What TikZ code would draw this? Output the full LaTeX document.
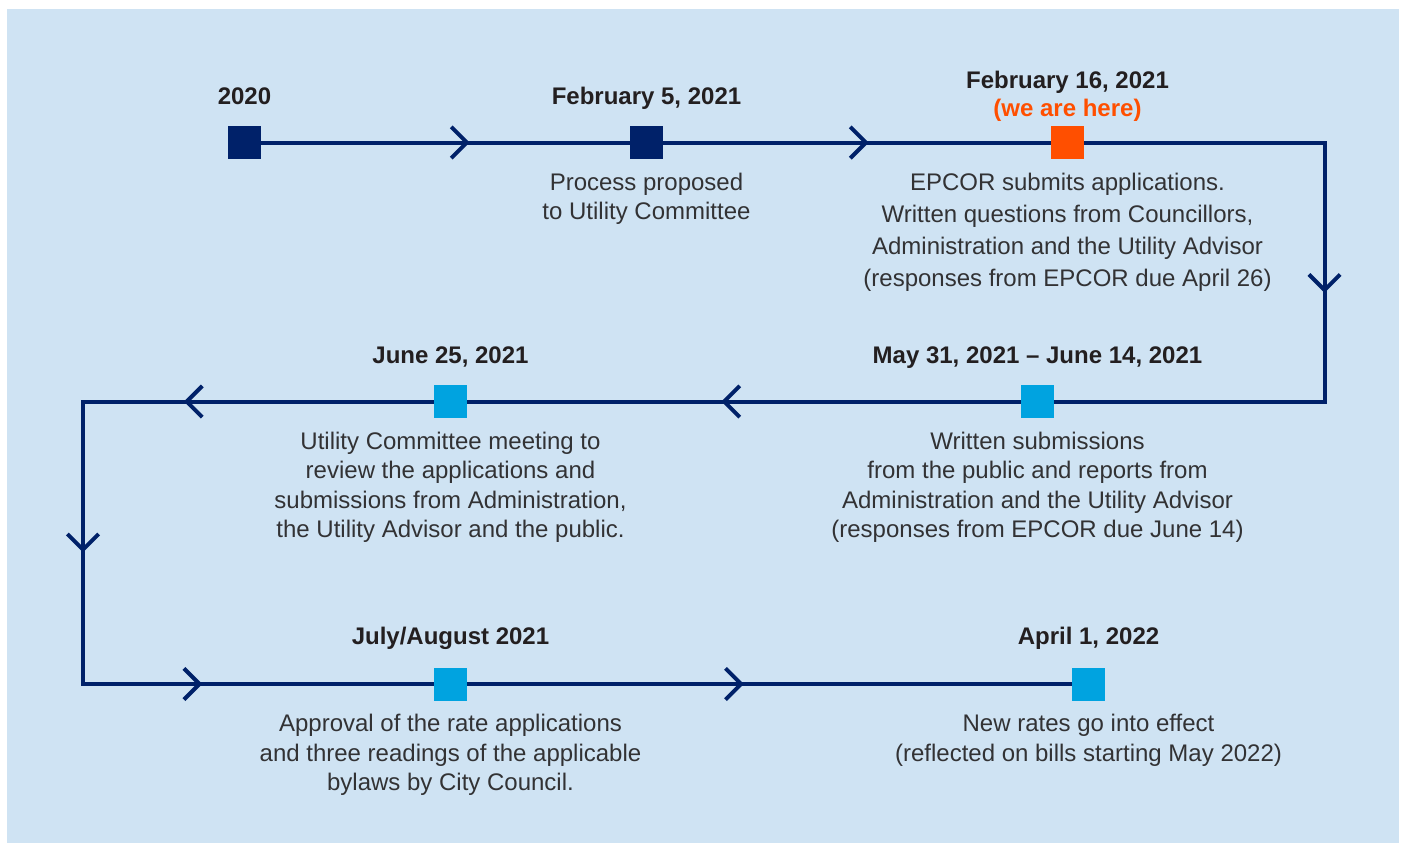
\documentclass[tikz,border=0pt]{standalone}
\usepackage{fontspec}
\setmainfont{Liberation Sans}
\usetikzlibrary{positioning,decorations.markings}
\definecolor{navy}{RGB}{0,33,105}
\definecolor{hereorange}{RGB}{255,79,0}
\definecolor{skyblue}{RGB}{0,163,224}
\definecolor{paleblue}{RGB}{207,227,243}
\definecolor{inkgray}{RGB}{35,31,32}
\definecolor{bodygray}{RGB}{50,50,52}
\tikzset{
milestone/.style={rectangle, minimum size=16.5pt, inner sep=0pt, fill=#1}, % the squares on the line
milestone/.default=skyblue,
datelabel/.style={font=\fontsize{12}{14}\selectfont\bfseries, text=inkgray, inner sep=0pt, text depth=0pt},
info/.style={font=\fontsize{12}{14.7}\selectfont, text=bodygray, align=center, inner sep=0pt},
track/.style={draw=navy, line width=2pt},
chev at/.style={postaction={decorate, decoration={markings, mark=at position #1 with {\draw[navy, line width=2pt, line join=miter] (-7.8pt,-7.8pt) -- (0pt,0pt) -- (-7.8pt,7.8pt);}}}},
}
\begin{document}
\begin{tikzpicture}[x=0.5pt,y=-0.5pt]
    \useasboundingbox (0,0) rectangle (1402,843);
    \fill[paleblue] (7,9) rectangle (1399,843);

    \node[milestone=navy] (m_0) at (244.5,142.5) {};
    \node[milestone=navy] (m_1) at (646.5,142.5) {};
    \node[milestone=hereorange] (m_2) at (1067.5,142.5) {};
    \node[milestone] (m_3) at (1037.5,401.5) {};
    \node[milestone] (m_4) at (450.5,401.5) {};
    \node[milestone] (m_5) at (450.5,684) {};
    \node[milestone] (m_6) at (1088.5,684) {};
    \coordinate (c_0) at (1324.5,142.5);
    \coordinate (c_1) at (1324.5,401.5);
    \coordinate (c_2) at (83,401.5);
    \coordinate (c_3) at (83,684);

    \path[track]
    (m_0) edge[chev at=0.558] (m_1)
    (m_1) edge[chev at=0.523] (m_2);
    \draw[track, chev at=0.504] (m_2) -- (c_0) -- (c_1) -- (m_3);
    \draw[track, chev at=0.536] (m_3) -- (m_4);
    \draw[track, chev at=0.251, chev at=0.507, chev at=0.762] (m_4) -- (c_2) -- (c_3) -- (m_5);
    \draw[track, chev at=0.453] (m_5) -- (m_6);

    % dates
    \node[datelabel, above=10.5pt of m_0] (d_0) {2020};
    \node[datelabel, above=10.5pt of m_1] (d_1) {February 5, 2021};
    \node[datelabel, text=hereorange, above=4.5pt of m_2] (h_2) {(we are here)};
    \node[datelabel, above=18.5pt of m_2] (d_2) {February 16, 2021};
    \node[datelabel, above=10.5pt of m_3] (d_3) {May 31, 2021 -- June 14, 2021};
    \node[datelabel, above=10.5pt of m_4] (d_4) {June 25, 2021};
    \node[datelabel, above=11pt of m_5] (d_5) {July/August 2021};
    \node[datelabel, above=11pt of m_6] (d_6) {April 1, 2022};

    % descriptions
    \node[info, below=6.5pt of m_1] (t_1) {Process proposed\\to Utility Committee};
    \node[info, font=\fontsize{12}{16}\selectfont, below=6.5pt of m_2] (t_2) {EPCOR submits applications.\\Written questions from Councillors,\\Administration and the Utility Advisor\\(responses from EPCOR due April 26)};
    \node[info, below=6.5pt of m_3] (t_3) {Written submissions\\from the public and reports from\\Administration and the Utility Advisor\\(responses from EPCOR due June 14)};
    \node[info, below=6.5pt of m_4] (t_4) {Utility Committee meeting to\\review the applications and\\submissions from Administration,\\the Utility Advisor and the public.};
    \node[info, below=6.5pt of m_5] (t_5) {Approval of the rate applications\\and three readings of the applicable\\bylaws by City Council.};
    \node[info, below=6.5pt of m_6] (t_6) {New rates go into effect\\(reflected on bills starting May 2022)};
\end{tikzpicture}
\end{document}
